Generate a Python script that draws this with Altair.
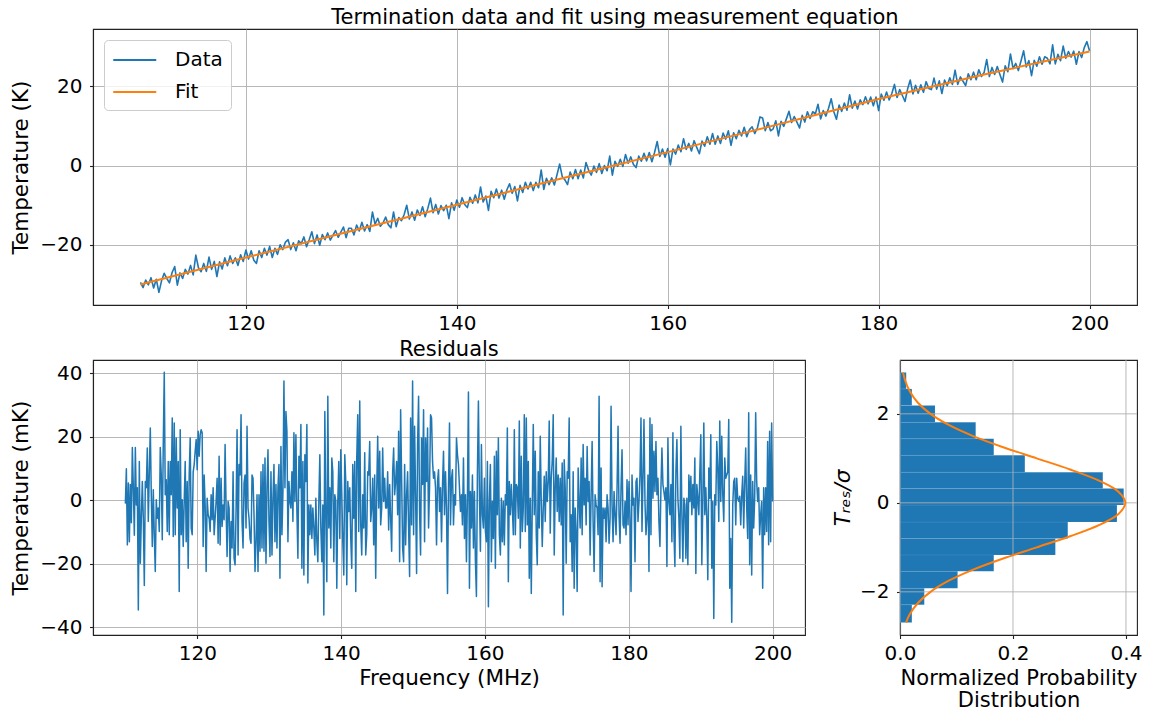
import altair as alt
import numpy as np
import pandas as pd

FONT = "DejaVu Sans"
BLUE = "#1f77b4"
ORANGE = "#ff7f0e"
GRID = "#b0b0b0"

# ---------------- tick values ----------------
freq_ticks = [120, 140, 160, 180, 200]
top_y_ticks = [-20, 0, 20]
res_y_ticks = [-40, -20, 0, 20, 40]
hist_x_ticks = [0.0, 0.2, 0.4]
hist_y_ticks = [-2, 0, 2]

# ---------------- top panel: measured termination temperature (K), 110..200 MHz ----------------
top_data_K = [
    -29.5, -30.8, -28.9, -30.1, -28.3, -30.9, -28.7, -32.0, -29.1, -27.2, -28.5, -29.6,
    -27.0, -25.5, -30.2, -27.1, -28.5, -26.2, -27.4, -25.2, -27.6, -22.6, -25.8, -26.8,
    -24.7, -26.7, -23.1, -26.2, -24.2, -28.0, -24.3, -26.1, -23.3, -25.3, -22.8, -24.7,
    -23.3, -25.2, -22.5, -24.2, -21.3, -23.6, -21.5, -23.9, -24.7, -21.5, -23.2, -20.9,
    -22.6, -20.4, -23.2, -20.9, -22.4, -20.0, -21.2, -19.3, -18.7, -21.2, -19.5, -21.5,
    -19.0, -19.7, -18.0, -20.5, -18.7, -16.7, -19.7, -17.5, -20.1, -17.4, -18.7, -17.0,
    -18.8, -17.6, -16.4, -18.1, -16.8, -15.5, -18.2, -15.8, -15.8, -17.5, -15.0, -16.5,
    -14.3, -16.5, -14.9, -16.6, -11.7, -14.8, -13.3, -15.3, -14.5, -13.0, -14.9, -15.7,
    -11.7, -15.4, -13.1, -13.9, -12.4, -10.0, -13.5, -11.7, -13.8, -11.2, -12.6, -10.4,
    -12.9, -10.8, -8.2, -11.9, -9.8, -12.2, -10.1, -11.4, -10.0, -13.4, -9.4, -11.3,
    -8.7, -10.5, -8.1, -9.8, -10.6, -8.0, -9.5, -7.4, -9.4, -5.4, -9.2, -7.7,
    -11.3, -6.5, -8.1, -5.9, -8.2, -6.2, -8.5, -6.1, -4.6, -7.0, -5.3, -8.9,
    -5.0, -6.8, -4.2, -5.9, -4.2, -6.3, -4.2, -5.6, -1.1, -6.0, -3.2, -4.8,
    -3.1, -4.9, -2.3, 0.4, -2.8, -3.6, -4.8, -1.6, -3.3, -1.0, -3.3, -1.1,
    -3.1, 0.8, -1.2, -2.4, -0.1, -1.7, 0.5, -2.0, 0.0, -1.3, 2.4, -2.4,
    1.1, -0.2, 1.6, -0.2, 2.8, 0.6, 2.2, 0.3, -0.5, 2.4, 1.1, 3.1,
    1.2, 3.3, 1.0, 3.3, 6.1, 2.3, 4.2, 2.1, 4.3, 0.2, 4.2, 2.9,
    5.2, 3.5, 6.8, 4.1, 5.6, 3.7, 6.3, 4.6, 3.0, 6.2, 4.9, 7.3,
    5.4, 8.1, 5.4, 7.5, 5.6, 8.2, 6.7, 8.8, 5.1, 8.3, 6.8, 8.9,
    7.5, 9.7, 7.3, 9.1, 9.8, 8.1, 9.5, 12.3, 12.0, 8.8, 10.9, 8.8,
    9.3, 11.3, 7.5, 11.2, 9.9, 11.8, 13.7, 10.9, 12.4, 11.0, 9.5, 12.7,
    11.0, 13.6, 11.9, 13.6, 13.1, 15.5, 11.8, 13.9, 12.5, 14.5, 16.9, 13.6,
    11.7, 15.3, 13.7, 15.8, 14.0, 17.9, 14.5, 16.3, 14.3, 16.6, 15.4, 17.4,
    15.6, 17.3, 15.1, 17.3, 13.9, 18.1, 16.5, 18.6, 16.6, 18.2, 20.5, 17.2,
    19.2, 17.7, 16.2, 19.4, 21.6, 18.1, 20.3, 18.3, 20.4, 18.5, 21.2, 19.5,
    19.2, 22.1, 19.3, 21.4, 18.2, 21.6, 20.2, 22.2, 20.5, 24.1, 20.5, 22.4,
    21.3, 20.2, 23.2, 21.7, 23.6, 21.7, 24.2, 22.5, 23.5, 26.8, 22.5, 24.8,
    23.0, 25.0, 23.0, 21.1, 25.2, 23.7, 28.2, 24.5, 25.8, 24.0, 26.4, 29.0,
    24.9, 26.5, 22.7, 26.6, 25.1, 27.5, 25.6, 27.5, 27.1, 25.7, 30.5, 25.7,
    28.1, 26.5, 30.2, 27.1, 28.8, 27.4, 28.9, 25.6, 28.8, 27.3, 29.8, 31.3,
    29.0,
]

# fit (measurement equation) read at 10 MHz steps
fit_freq_MHz = [110, 120, 130, 140, 150, 160, 170, 180, 190, 200]
fit_K = [-30.0, -23.2, -16.5, -9.9, -3.2, 3.4, 10.1, 16.8, 23.0, 28.8]

# ---------------- residuals (mK), 110..200 MHz ----------------
resid_mK = [
    # 110 - 128 MHz
    -1, 10, -14, 5.5, -13, 5, -7, 16.7, 4, -11, 16.7, -1.4, 4, -34.5, 12.3, -19.8, -5.6, 6,
    -5.6, -26.8, 6, 4, 16.5, -6.6, 9, 22.8, 1.8, -14.5, 3.4, -10.8, -22.4, 0.2, -5.6, -2.4,
    -9.8, 16.7, 8, -12.4, 17.6, 40.4, 1.8, 6.5, -9.8, 12.3, -10.8, 12.3, 1.8, 26, -11.4, 24.4,
    -10.8, 19.7, -2.4, 12.3, -28.7, 22.3, -10.8, 0.2, -14.5, -0.3, 12.3, -13, 6, -21.4, 8,
    19.7, -8.7, -10.8, 9, 11.3, 15.5, 19.2, 9.7, 21.8, 13.9, 20.7, 22.3, 21.3, -14.5, 8, -1.4,
    -22.4, 0.7, -4.5, -5.6, -9.8, 1.8, -6.1, 4, -10.8, -5.6, -0.3, 7, -13.5, 13.9, -14, 7,
    -8.2, -1.4, -6.1, 17.6, -2.4, -17.7, -0.3, -2.4, -22.4, -6.6, -15, 9, -18.2, -20.3, -3.5,
    22.3, -17.2, 11.3, 8, 27, -6.6, -15, 5.5, 8, -8.7, 23.4, -2.4, -5.6, -12, -13.5, 8, 7,
    -4.5, -22.4,
    # 128 - 146 MHz
    -13, 1.8, -22.4, 1.8, -16, 9, -15, 11.3, -16, 13.4, -19.8, 4, 16, -6.6, -17.7, 9, -17.2,
    0.7, 11.3, -13, 5, -15, 4, 11.3, -24.5, 17, -10.8, 2.8, 37.6, 4, 28, 21.8, -13, 6, -0.3,
    -2.4, 9, -6.6, 21.3, -0.3, 20.7, -3.5, -18.2, 13.9, 4, 23.9, -21.4, 12.3, -23.5, 14.4, 6,
    23.9, -26, -1.4, -10.8, -1.4, -12, -2.4, -8.7, -17.2, 0.7, -13, -19.3, -0.3, 14.4, -8.7,
    -19.3, -1.4, -36.1, 28, -5.6, -25.6, 32.8, -8.7, 4, -15, 13.4, 9, -19.3, 1.8, -0.3, -27.7,
    -0.3, 12.3, -12, 16, 1.8, -13, -23.5, 14.4, 6, -26.6, 6, -3.5, 4, -12, -21.4, 11.3, -5.6,
    12.3, -28.7, 13.4, 27, -9.8, 31.3, -7.7, -17.2, 1.8, -8.7, 15, -17.2, -10.8, 9, 8, 18.6,
    -6.6, -2.4, 7, -14, 8, -24.5, 2.8, 20.2, -2.4, 15.5, -7.7, -2.4, 16.5, -0.3, 7, -2.4,
    # 146 - 164 MHz
    -2.4, 9, -9.3, 5, -5.6, -16, 9, 16.5, 1.8, 6, 12.3, -4.5, 21.8, -19.3, 28.6, 7, -15, -19.3,
    11.3, -14, 1.8, 9, -8.7, -24, 26, -7.7, 37.6, -10.8, 23.4, 1.8, -23, 17.6, 32.8, -3.5,
    -17.2, 19.7, 5, 28.6, -13, 19.7, 6, 22.8, -8.7, 4, 27, 26, 12.3, 7, 9, 4, -14, 6, 9.7,
    -3.5, 4, -13, 5, 15.5, -4.5, 9, -2.4, -29.3, 4, 24.4, -7.7, 7, 9.7, -7.7, 1.8, -1.4, 19.7,
    14.4, 11.3, 4, -3.5, 1.8, -7.7, 13.4, -12, 1.8, -19.3, 1.8, 34.2, -27.7, 2.8, -8.7, 8, -15,
    2.8, -19.3, -30.3, 9, 31.3, 1.8, -16, 17.6, -4.5, -8.7, 7, -9.8, -13, 12.3, -33.5, -0.3,
    11.3, -19.3, -0.3, -12, 13.9, -21.4, 15.5, -4.5, 19.7, -10.8, -17.2, 0.7, -13, -0.3, -14,
    1.8, -1.4, 22.8, -25.6, 6, -4.5, 5, -2.4, -10.8, 22.3, -10.8, 5,
    # 164 - 182 MHz
    4, -5.6, 25, -15, 13.9, -9.8, -2.4, 27, -9.8, 26, -7.7, 12.3, -24.5, 0.7, -29.3, -1.4,
    23.9, -4.5, 15.5, -10.8, -20.3, 9, -8.7, 20.2, -0.3, -14.5, -2.4, 7.6, -6.6, 9, -0.3, 6,
    25, -10.3, 7, 12.3, 27, -17.2, 4, 13.4, -3.5, 8, -6.6, 7, -7.7, 11.8, -36.1, 12.8, 4,
    -19.8, 9, 7, 26, -13, -4.5, -22.4, 9, -27.7, -2.4, -9.8, -28.7, 10.2, -0.3, -8.7, 13.4,
    -10.8, 17.6, -1.4, 7, -7.7, 17, -0.3, 6, -17.2, 1.8, 18.6, -6.6, -22.4, 1.8, -1.4, -2.4,
    -10.8, 32.8, -25.6, 10.2, -27.2, -2.4, -5.6, -2.4, -13, 1.8, -2.4, -13.5, -5.6, 29.7,
    -1.4, -13, 2.8, -4.5, -10.8, 4, 23.4, -4.5, -13.5, 4, 16, -7.7, -8.7, -0.3, -10.8, 6.5,
    -7.7, 6, -5.6, -28.7, 8, -1.4, 0.7, -19.3, 6, 7, -6.6, -0.3, 8, 26, -9.8, 7, 25.5, -0.3,
    -10.8,
    # 182 - 200 MHz
    -5.6, 8, -22.4, 26, -10.8, 23.9, 0.7, 15.5, 2.8, 18.6, 1.8, 7, -6.6, -14.5, 4, 16.5, 5,
    2.8, 0.2, 4, -20.8, 19.7, -0.3, -4.5, 5, -13, 21.3, -9.8, -20.8, 9, 19.2, 0.7, -5.6,
    -18.2, 23.4, -4.5, -19.3, 0.7, -1.4, -18.2, 0.7, -20.3, 8, -0.3, 7.6, -4.5, 5, -2.4,
    13.4, -23, 5, 0.7, -4.5, 9, 20.7, -20.3, -0.3, 24.4, -4.5, 4, -5.6, -25, 10.2, 0.7, 20.7,
    -21.4, -0.3, -37.2, 1.8, -1.4, 18.6, 10.2, -6.6, 25, -0.3, 20.2, 1.8, -6.6, 13.4, 7, 8,
    9, 25.5, -27.7, -12, -38.4, -1.4, 6, 7, -7.7, 7, 0.7, -0.3, 1.3, -7.7, 1.8, 7.6, -8.7,
    5.5, 16.5, -2.4, -12, 27.6, -20.3, 8, -23.5, 6, -8.7, 0.7, 27.6, 6, -0.3, 4, -10.8, -4.5,
    -0.3, -27.7, 4, -10.8, 4, -9.8, 18.6, -14, 21.8, -13, 24.4, -0.3,
]

# ---------------- normalized residual histogram ----------------
hist_edges = [-2.69, -2.29, -1.92, -1.54, -1.17, -0.80, -0.43, -0.05,
              0.32, 0.69, 1.07, 1.44, 1.81, 2.19, 2.56, 2.93]
hist_density = [0.021, 0.043, 0.102, 0.166, 0.275, 0.297, 0.384, 0.396,
                0.359, 0.221, 0.166, 0.134, 0.062, 0.021, 0.011]

gauss_sigma = [-2.69, -2.5, -2.25, -2.0, -1.75, -1.5, -1.25, -1.0, -0.75, -0.5, -0.25, 0.0,
               0.25, 0.5, 0.75, 1.0, 1.25, 1.5, 1.75, 2.0, 2.25, 2.5, 2.75, 2.93]
gauss_pdf = [0.0107, 0.0175, 0.0317, 0.0540, 0.0863, 0.1295, 0.1826, 0.2420, 0.3011, 0.3521,
             0.3867, 0.3989, 0.3867, 0.3521, 0.3011, 0.2420, 0.1826, 0.1295, 0.0863, 0.0540,
             0.0317, 0.0175, 0.0091, 0.0055]

# ---------------- tables ----------------
top_df = pd.DataFrame({"freq": np.linspace(110, 200, len(top_data_K)),
                       "temp": top_data_K, "series": "Data"})
fit_df = pd.DataFrame({"freq": fit_freq_MHz, "temp": fit_K, "series": "Fit"})
res_df = pd.DataFrame({"freq": np.linspace(110, 200, len(resid_mK)), "temp": resid_mK})
hist_df = pd.DataFrame({"sigma": hist_edges[:-1], "sigma_hi": hist_edges[1:],
                        "density": hist_density, "base": 0.0})
gauss_df = pd.DataFrame({"sigma": gauss_sigma, "density": gauss_pdf})
vgrid_df = pd.DataFrame({"density": hist_x_ticks})
hgrid_df = pd.DataFrame({"sigma": hist_y_ticks})

# ---------------- top chart ----------------
color_scale = alt.Scale(domain=["Data", "Fit"], range=[BLUE, ORANGE])
legend = alt.Legend(
    title=None, orient="top-left", offset=11, padding=8,
    strokeColor="#cccccc", cornerRadius=4, fillColor="rgba(255,255,255,0.8)",
    labelFont=FONT, labelFontSize=20, labelColor="black",
    symbolType="M-1,0L3,0", symbolSize=462, symbolStrokeWidth=2,
    labelOffset=39, rowPadding=10,
)
x_top = alt.X("freq:Q", scale=alt.Scale(domain=[105.5, 204.5], nice=False, zero=False),
              axis=alt.Axis(values=freq_ticks, title=None, labelPadding=5))
y_top = alt.Y("temp:Q", scale=alt.Scale(domain=[-35.2, 34.5], nice=False, zero=False),
              axis=alt.Axis(values=top_y_ticks, title="Temperature (K)"))

data_line = alt.Chart(top_df).mark_line(strokeWidth=1.6, strokeJoin="round", clip=True).encode(
    x=x_top, y=y_top, color=alt.Color("series:N", scale=color_scale, legend=legend))
fit_line = alt.Chart(fit_df).mark_line(strokeWidth=2, interpolate="monotone", clip=True).encode(
    x=x_top, y=y_top, color=alt.Color("series:N", scale=color_scale, legend=legend))
top = alt.layer(data_line, fit_line).properties(
    width=1044, height=276,
    title=alt.TitleParams("Termination data and fit using measurement equation", offset=1),
)

# ---------------- residual chart ----------------
res = alt.Chart(res_df).mark_line(color=BLUE, strokeWidth=1.5, strokeJoin="round", clip=True).encode(
    x=alt.X("freq:Q", scale=alt.Scale(domain=[105.5, 204.5], nice=False, zero=False),
            axis=alt.Axis(values=freq_ticks, title="Frequency (MHz)", labelPadding=5, titlePadding=4)),
    y=alt.Y("temp:Q", scale=alt.Scale(domain=[-42.4, 44.25], nice=False, zero=False),
            axis=alt.Axis(values=res_y_ticks, title="Temperature (mK)")),
).properties(width=712, height=275, title=alt.TitleParams("Residuals", offset=0))

# ---------------- histogram chart ----------------
hx = alt.X("density:Q", scale=alt.Scale(domain=[0, 0.4195], nice=False, zero=False),
           axis=alt.Axis(values=hist_x_ticks, format=".1f", grid=False, labelPadding=5,
                         labelFlush=False,
                         title=["Normalized Probability", "Distribution"], titlePadding=4,
                         titleFontSize=21, titleLineHeight=22))
hy = alt.Y("sigma:Q", scale=alt.Scale(domain=[-2.97, 3.21], nice=False, zero=False),
           axis=alt.Axis(values=hist_y_ticks, grid=False, title="Tᵣₑₛ/σ",
                         labelFlush=False, titleFontStyle="italic", titlePadding=5))

bars = alt.Chart(hist_df).mark_rect(color=BLUE, stroke="#ffffff", strokeWidth=0.3,
                                    strokeOpacity=0.25).encode(
    x=hx, x2="base:Q", y=hy, y2="sigma_hi:Q")
vgrid = alt.Chart(vgrid_df).mark_rule(color=GRID, strokeWidth=0.9).encode(x=hx)
hgrid = alt.Chart(hgrid_df).mark_rule(color=GRID, strokeWidth=0.9).encode(y=hy)
curve = alt.Chart(gauss_df).mark_line(color=ORANGE, strokeWidth=2, interpolate="catmull-rom").encode(
    x=hx, y=hy, order="sigma:Q")
hist = alt.layer(bars, vgrid, hgrid, curve).properties(width=237, height=275)

bottom = alt.hconcat(res, hist, spacing=95, bounds="flush")
chart = alt.vconcat(top, bottom, spacing=55, bounds="flush").properties(
    padding={"left": 10, "top": 6, "right": 5, "bottom": 2},
    background="white",
).configure_axis(
    labelFont=FONT, labelFontSize=20, labelColor="black", labelFlush=False,
    titleFont=FONT, titleFontSize=21.5, titleFontWeight="normal", titleColor="black",
    tickColor="#222222", tickSize=3.5, tickWidth=1.1,
    domainColor="#222222", domainWidth=1.1,
    gridColor=GRID, gridWidth=0.9, grid=True,
).configure_axisY(
    labelPadding=7.5, titlePadding=7,
).configure_view(
    stroke="#222222", strokeWidth=1.1,
).configure_title(
    font=FONT, fontSize=21, fontWeight="normal", color="black", anchor="middle",
)

chart.save("out.html", embed_options={"renderer": "svg", "actions": False})
